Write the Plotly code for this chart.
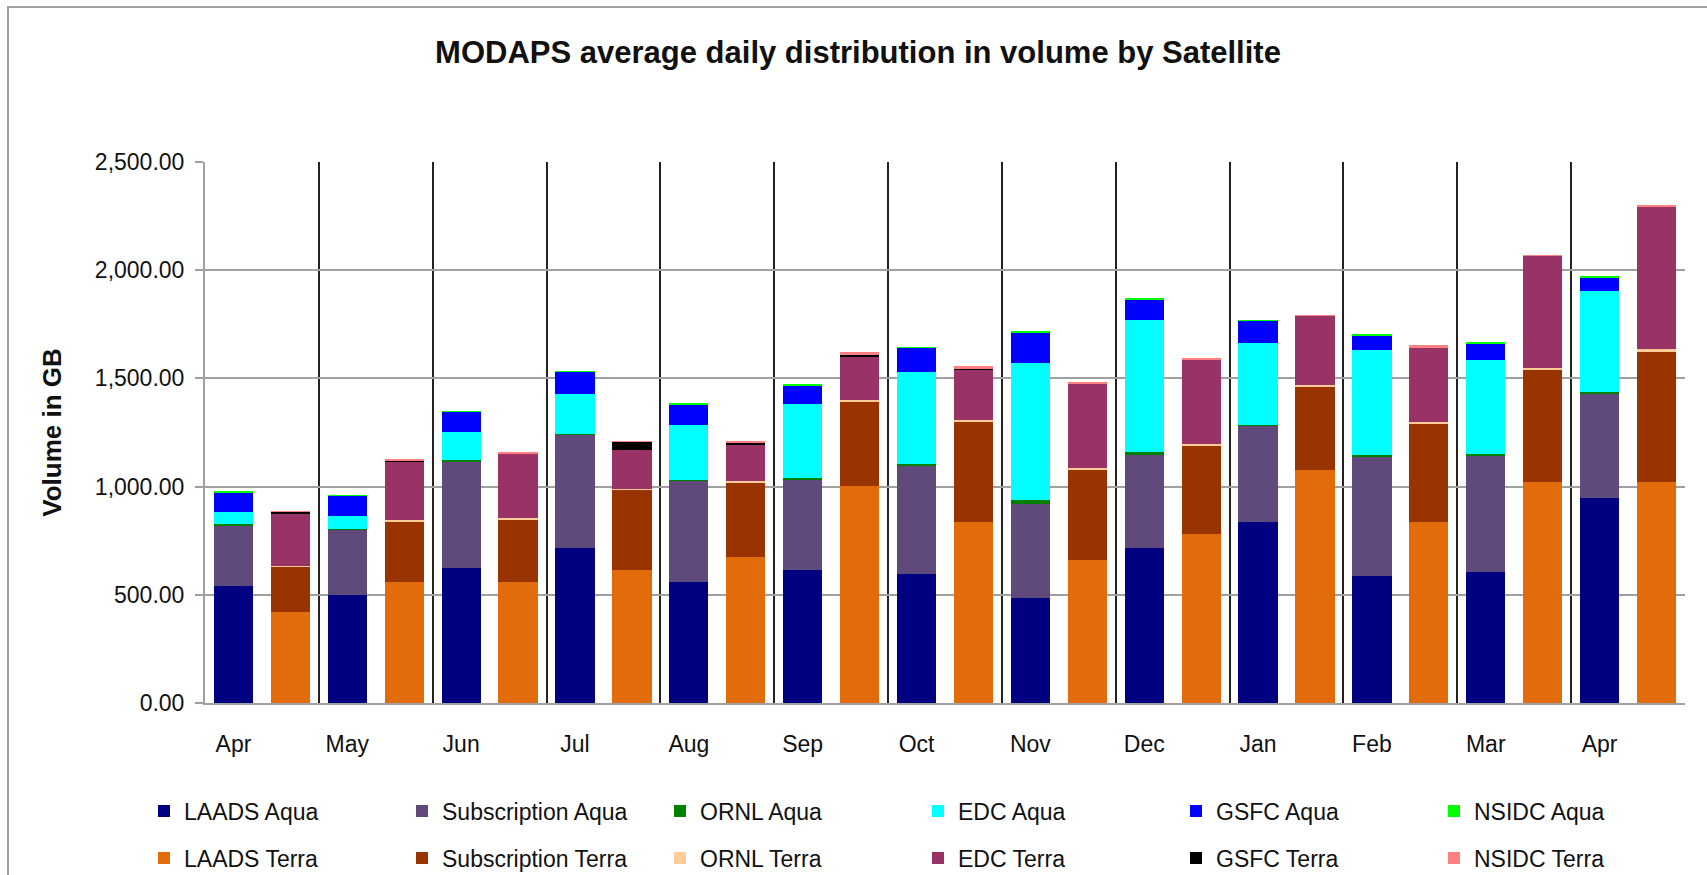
import plotly.graph_objects as go

months = ["Apr", "May", "Jun", "Jul", "Aug", "Sep", "Oct", "Nov", "Dec", "Jan", "Feb", "Mar", "Apr"]

laads_aqua = [540, 500, 622, 717, 557, 614, 597, 485, 717, 835, 585, 605, 948]
subscription_aqua = [280, 300, 492, 526, 472, 418, 500, 436, 428, 446, 552, 540, 484]
ornl_aqua = [6, 3, 9, 2, 3, 7, 7, 19, 16, 3, 7, 7, 7]
edc_aqua = [57, 63, 128, 185, 252, 343, 427, 629, 610, 379, 488, 434, 464]
gsfc_aqua = [91, 93, 94, 103, 94, 86, 110, 141, 95, 103, 66, 76, 64]
nsidc_aqua = [2, 1, 2, 1, 7, 7, 2, 6, 6, 1, 8, 2, 7]

laads_terra = [420, 559, 559, 614, 677, 1003, 835, 660, 780, 1077, 835, 1020, 1020]
subscription_terra = [211, 281, 288, 372, 343, 389, 465, 420, 410, 384, 458, 523, 604]
ornl_terra = [2, 6, 6, 2, 8, 7, 8, 7, 9, 9, 7, 7, 14]
edc_terra = [244, 268, 298, 183, 168, 204, 232, 388, 387, 320, 344, 518, 655]
gsfc_terra = [8, 8, 1, 38, 8, 9, 8, 1, 1, 1, 1, 1, 1]
nsidc_terra = [1, 1, 7, 1, 9, 8, 9, 8, 9, 1, 9, 1, 7]

aqua_series = [
    ("LAADS Aqua", laads_aqua, "#000080"),
    ("Subscription Aqua", subscription_aqua, "#5F4A7B"),
    ("ORNL Aqua", ornl_aqua, "#008000"),
    ("EDC Aqua", edc_aqua, "#00FFFF"),
    ("GSFC Aqua", gsfc_aqua, "#0000FF"),
    ("NSIDC Aqua", nsidc_aqua, "#00FF00"),
]
terra_series = [
    ("LAADS Terra", laads_terra, "#E36C0A"),
    ("Subscription Terra", subscription_terra, "#993300"),
    ("ORNL Terra", ornl_terra, "#FFCC99"),
    ("EDC Terra", edc_terra, "#993366"),
    ("GSFC Terra", gsfc_terra, "#000000"),
    ("NSIDC Terra", nsidc_terra, "#FF8080"),
]

n = len(months)
aqua_x = [2 * i for i in range(n)]
terra_x = [2 * i + 1 for i in range(n)]

FONT = "Liberation Sans, Arial, sans-serif"

fig = go.Figure()
for name, vals, color in aqua_series:
    fig.add_trace(go.Bar(x=aqua_x, y=vals, name=name, marker=dict(color=color, line=dict(width=0)),
                         legend="legend"))
for name, vals, color in terra_series:
    fig.add_trace(go.Bar(x=terra_x, y=vals, name=name, marker=dict(color=color, line=dict(width=0)),
                         legend="legend2"))

W, H = 1707, 875
L, R, T, B = 205, 22, 162, 172
pw = W - L - R
ph = H - T - B

def px_x(p):
    return (p - L) / pw

def px_y(p):
    return (H - B - p) / ph

legend_common = dict(
    orientation="h", xanchor="left", yanchor="middle",
    entrywidth=213, entrywidthmode="pixels",
    itemwidth=30, traceorder="normal",
    font=dict(family=FONT, size=23, color="#111111"),
    bgcolor="rgba(0,0,0,0)", borderwidth=0,
)

fig.update_layout(
    width=W, height=H,
    margin=dict(l=L, r=R, t=T, b=B, autoexpand=False),
    paper_bgcolor="white", plot_bgcolor="white",
    barmode="stack", bargap=0.31,
    font=dict(family=FONT, color="#111111"),
    title=dict(
        text="MODAPS average daily distribution in volume by Satellite",
        x=858 / W, xref="container", xanchor="center",
        y=1 - 52 / H, yref="container", yanchor="middle",
        font=dict(family=FONT, size=31, color="#111111", weight="bold"),
    ),
    xaxis=dict(
        range=[-0.5, 2 * n - 0.5],
        tickmode="array", tickvals=aqua_x, ticktext=months,
        showgrid=False, zeroline=False,
        showline=True, linecolor="#A0A0A0", linewidth=2,
        ticks="", ticklabelstandoff=19,
        tickfont=dict(family=FONT, size=23, color="#111111"),
        minor=dict(tickmode="array", tickvals=[2 * i + 1.5 for i in range(n - 1)],
                   showgrid=True, gridcolor="#222222", gridwidth=2, ticks=""),
    ),
    yaxis=dict(
        range=[0, 2500], tickmode="linear", tick0=0, dtick=500,
        tickformat=",.2f",
        showgrid=True, gridcolor="#A0A0A0", gridwidth=2,
        zeroline=False,
        showline=True, linecolor="#A0A0A0", linewidth=2,
        ticks="outside", ticklen=8, tickwidth=2, tickcolor="#A0A0A0",
        ticklabelstandoff=6,
        tickfont=dict(family=FONT, size=23, color="#111111"),
        title=dict(text="<b>Volume in GB</b>", standoff=26,
                   font=dict(family=FONT, size=26, color="#111111")),
    ),
    legend=dict(x=px_x(144), y=px_y(811), **legend_common),
    legend2=dict(x=px_x(144), y=px_y(858), **legend_common),
    shapes=[
        dict(type="rect", xref="paper", yref="paper",
             x0=px_x(8), y0=px_y(W), x1=px_x(W + 20), y1=px_y(7),
             line=dict(color="#A0A0A0", width=2), fillcolor="rgba(0,0,0,0)", layer="below"),
    ],
)

fig.write_html("out.html", config={"displayModeBar": False},
               post_script="document.body.style.margin='0';document.body.style.overflow='hidden';")
